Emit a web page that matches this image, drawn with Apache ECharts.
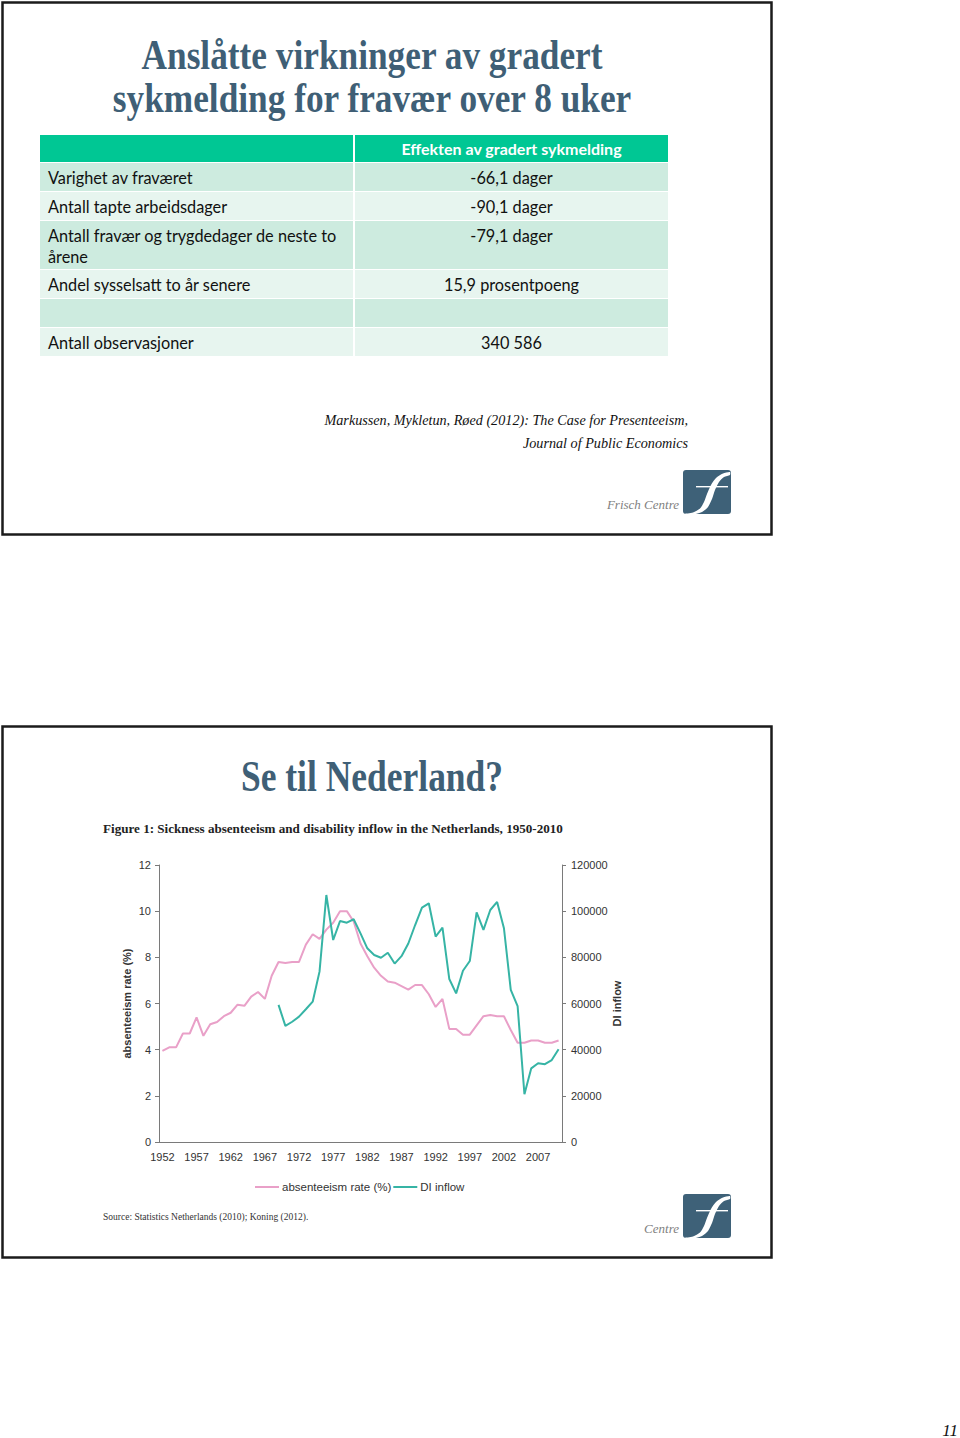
<!DOCTYPE html>
<html><head><meta charset="utf-8">
<script src="https://cdn.jsdelivr.net/npm/echarts@6/dist/echarts.min.js"></script>
<style>html,body{margin:0;padding:0;background:#fff}#c{width:960px;height:1438px}</style>
</head><body><div id="c"></div>
<script>
// ---------- data ----------
const slide1Title = ['Anslåtte virkninger av gradert', 'sykmelding for fravær over 8 uker'];
const tableHeader = ['', 'Effekten av gradert sykmelding'];
const tableLabels = ['Varighet av fraværet', 'Antall tapte arbeidsdager', 'Antall fravær og trygdedager de neste to\nårene', 'Andel sysselsatt to år senere', '', 'Antall observasjoner'];
const tableValues = ['-66,1 dager', '-90,1 dager', '-79,1 dager', '15,9 prosentpoeng', '', '340 586'];
const citation = ['Markussen, Mykletun, Røed (2012): The Case for Presenteeism,', 'Journal of Public Economics'];
const logoText1 = 'Frisch Centre';
const logoText2 = 'Centre';
const slide2Title = 'Se til Nederland?';
const figureTitle = 'Figure 1: Sickness absenteeism and disability inflow in the Netherlands, 1950-2010';
const sourceNote = 'Source: Statistics Netherlands (2010); Koning (2012).';
const pageNumber = '11';
const seriesNames = ['absenteeism rate (%)', 'DI inflow'];
const leftAxisName = 'absenteeism rate (%)';
const rightAxisName = 'DI inflow';

const years = ['1952','1953','1954','1955','1956','1957','1958','1959','1960','1961',
  '1962','1963','1964','1965','1966','1967','1968','1969','1970','1971',
  '1972','1973','1974','1975','1976','1977','1978','1979','1980','1981',
  '1982','1983','1984','1985','1986','1987','1988','1989','1990','1991',
  '1992','1993','1994','1995','1996','1997','1998','1999','2000','2001',
  '2002','2003','2004','2005','2006','2007','2008','2009','2010'];

const absenteeismRate = [3.95,4.1,4.1,4.7,4.7,5.4,4.6,5.1,5.2,5.45,
  5.6,5.95,5.9,6.3,6.5,6.2,7.2,7.8,7.75,7.8,
  7.8,8.55,9.0,8.8,9.2,9.5,10.0,10.0,9.55,8.6,
  8.05,7.55,7.2,6.95,6.9,6.75,6.6,6.8,6.8,6.4,
  5.85,6.2,4.9,4.9,4.65,4.65,5.05,5.45,5.5,5.45,
  5.45,4.85,4.3,4.3,4.4,4.4,4.3,4.3,4.4];

const diInflow = [null,null,null,null,null,null,null,null,null,null,
  null,null,null,null,null,null,null,59400,50300,52100,
  54300,57500,60800,73800,107000,87500,95700,95000,96500,90400,
  83900,81000,79800,82000,77300,80500,86000,94000,101500,103400,
  89000,92900,70600,64400,74200,78400,99500,91900,100500,104000,
  92600,65900,58900,20700,31900,34100,33700,35500,40200];

const leftTicks = {min: 0, max: 12, interval: 2};
const rightTicks = {min: 0, max: 120000, interval: 20000};

// ---------- styles ----------
const TITLE_COLOR = '#3F5F76';
const PINK = '#E9A0C8';
const TEAL = '#36B4A5';
const SERIF = '"Liberation Serif", "DejaVu Serif", serif';
const SANS = '"Liberation Sans", Arial, sans-serif';
const TABLE_FONT = 'Lato, "Liberation Sans", sans-serif';

const chart = echarts.init(document.getElementById('c'), null, {renderer: 'svg', width: 960, height: 1438});

function logo(x, y) {
  return {
    type: 'group', x: x, y: y,
    children: [
      {type: 'rect', shape: {x: 0, y: 0, width: 48, height: 44, r: 3}, style: {fill: '#3E6178'}},
      {type: 'polygon', shape: {smooth: 0.25, points: [
        [1, 44], [10, 42.5], [17, 38.5], [21, 32], [24, 24], [28, 15], [33, 8], [40, 3.5], [47, 2],
        [47, 5], [41, 7], [36, 12], [32, 20], [29, 29], [25, 37], [19, 42], [10, 44.5]
      ]}, style: {fill: '#fff'}},
      {type: 'rect', shape: {x: 13, y: 16, width: 32, height: 1.4}, style: {fill: '#fff'}}
    ]
  };
}

const graphic = [];
// slide frames
graphic.push({type: 'rect', shape: {x: 2.5, y: 2.5, width: 769, height: 532}, style: {fill: 'none', stroke: '#1b1b1b', lineWidth: 2.5}});
graphic.push({type: 'rect', shape: {x: 2.5, y: 726.5, width: 769, height: 531}, style: {fill: 'none', stroke: '#1b1b1b', lineWidth: 2.5}});

// slide 1 title
slide1Title.forEach(function (t, i) {
  graphic.push({type: 'text', x: 372, y: 55 + i * 43, scaleY: 1.22,
    style: {text: t, font: 'bold 35.3px ' + SERIF, fill: TITLE_COLOR, textAlign: 'center', textVerticalAlign: 'middle'}});
});

// table
const colX = [40, 355], colW = [313, 313];
const rowH = [28, 28, 48, 28, 28, 28];
const headerTop = 135, headerH = 27;
graphic.push({type: 'rect', shape: {x: colX[0], y: headerTop, width: colW[0], height: headerH}, style: {fill: '#00C794'}});
graphic.push({type: 'rect', shape: {x: colX[1], y: headerTop, width: colW[1], height: headerH}, style: {fill: '#00C794'}});
graphic.push({type: 'text', x: colX[1] + colW[1] / 2, y: headerTop + headerH / 2,
  style: {text: tableHeader[1], font: 'bold 16px ' + TABLE_FONT, fill: '#fff', textAlign: 'center', textVerticalAlign: 'middle'}});
let rowTop = headerTop + headerH + 1;
tableLabels.forEach(function (lab, i) {
  const fill = i % 2 === 0 ? '#CDEBDF' : '#E7F5EF';
  graphic.push({type: 'rect', shape: {x: colX[0], y: rowTop, width: colW[0], height: rowH[i]}, style: {fill: fill}});
  graphic.push({type: 'rect', shape: {x: colX[1], y: rowTop, width: colW[1], height: rowH[i]}, style: {fill: fill}});
  graphic.push({type: 'text', x: 48, y: rowTop + 3.5,
    style: {text: lab, font: '16.3px ' + TABLE_FONT, lineHeight: 21, fill: '#111', textAlign: 'left', textVerticalAlign: 'top'}});
  graphic.push({type: 'text', x: colX[1] + colW[1] / 2, y: rowTop + 3.5,
    style: {text: tableValues[i], font: '16.3px ' + TABLE_FONT, lineHeight: 21, fill: '#111', textAlign: 'center', textVerticalAlign: 'top'}});
  rowTop += rowH[i] + 1;
});

// citation
citation.forEach(function (t, i) {
  graphic.push({type: 'text', x: 688, y: 420 + i * 23,
    style: {text: t, font: 'italic 14.2px ' + SERIF, fill: '#111', textAlign: 'right', textVerticalAlign: 'middle'}});
});
graphic.push({type: 'text', x: 679, y: 504, style: {text: logoText1, font: 'italic 13px ' + SERIF, fill: '#7F7F7F', textAlign: 'right', textVerticalAlign: 'middle'}});
graphic.push(logo(683, 470));

// slide 2
graphic.push({type: 'text', x: 372, y: 777, scaleY: 1.22,
  style: {text: slide2Title, font: 'bold 35.5px ' + SERIF, fill: TITLE_COLOR, textAlign: 'center', textVerticalAlign: 'middle'}});
graphic.push({type: 'text', x: 103, y: 828,
  style: {text: figureTitle, font: 'bold 13.1px ' + SERIF, fill: '#222', textAlign: 'left', textVerticalAlign: 'middle'}});
graphic.push({type: 'text', x: 103, y: 1217,
  style: {text: sourceNote, font: '9.5px ' + SERIF, fill: '#333', textAlign: 'left', textVerticalAlign: 'middle'}});
graphic.push({type: 'text', x: 679, y: 1228, style: {text: logoText2, font: 'italic 13px ' + SERIF, fill: '#7F7F7F', textAlign: 'right', textVerticalAlign: 'middle'}});
graphic.push(logo(683, 1194));
graphic.push({type: 'text', x: 958, y: 1430, style: {text: pageNumber, font: 'italic 17px ' + SERIF, fill: '#111', textAlign: 'right', textVerticalAlign: 'middle'}});

const axisLineStyle = {color: '#7a7a7a', width: 1};
const axisLabelStyle = {color: '#333', fontSize: 11, fontFamily: SANS};

chart.setOption({
  animation: false,
  backgroundColor: '#fff',
  graphic: graphic,
  legend: {
    left: 250, top: 1176, itemWidth: 24, itemHeight: 2, itemGap: 2, icon: 'rect',
    data: seriesNames,
    textStyle: {color: '#333', fontSize: 11.5, fontFamily: SANS, padding: [0, 0, 0, -2]}
  },
  grid: {left: 159, right: 398, top: 865, bottom: 296, containLabel: false},
  xAxis: {
    type: 'category', data: years, boundaryGap: true,
    axisLine: {lineStyle: axisLineStyle},
    axisTick: {interval: 4, length: 4, lineStyle: axisLineStyle},
    axisLabel: Object.assign({interval: 4, margin: 9}, axisLabelStyle)
  },
  yAxis: [
    {
      type: 'value', position: 'left', min: leftTicks.min, max: leftTicks.max, interval: leftTicks.interval,
      name: leftAxisName, nameLocation: 'middle', nameGap: 27,
      nameTextStyle: {fontWeight: 'bold', fontSize: 11, color: '#333', fontFamily: SANS},
      axisLine: {show: true, lineStyle: axisLineStyle},
      axisTick: {show: true, length: 4, lineStyle: axisLineStyle},
      splitLine: {show: false},
      axisLabel: Object.assign({margin: 8}, axisLabelStyle)
    },
    {
      type: 'value', position: 'right', min: rightTicks.min, max: rightTicks.max, interval: rightTicks.interval,
      name: rightAxisName, nameLocation: 'middle', nameGap: 47,
      nameTextStyle: {fontWeight: 'bold', fontSize: 11, color: '#333', fontFamily: SANS},
      axisLine: {show: true, lineStyle: axisLineStyle},
      axisTick: {show: true, length: 4, lineStyle: axisLineStyle},
      splitLine: {show: false},
      axisLabel: Object.assign({margin: 9, formatter: function (v) { return String(v); }}, axisLabelStyle)
    }
  ],
  series: [
    {name: seriesNames[0], type: 'line', yAxisIndex: 0, data: absenteeismRate, symbol: 'none', smooth: false,
      lineStyle: {color: PINK, width: 2}, itemStyle: {color: PINK}},
    {name: seriesNames[1], type: 'line', yAxisIndex: 1, data: diInflow, symbol: 'none', smooth: false,
      lineStyle: {color: TEAL, width: 2}, itemStyle: {color: TEAL}}
  ]
});
</script>
</body></html>
